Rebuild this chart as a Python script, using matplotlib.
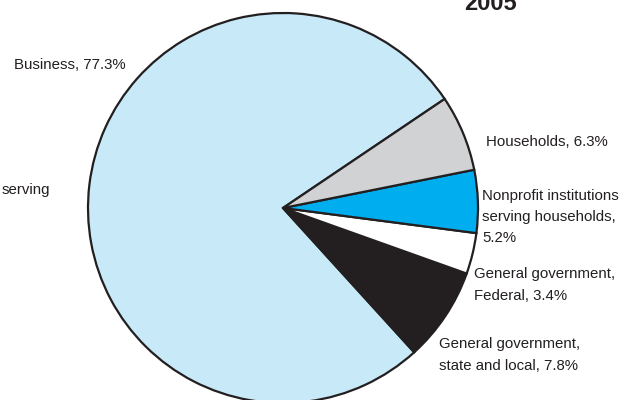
import matplotlib
matplotlib.use("Agg")
import matplotlib.pyplot as plt

plt.rcParams['font.family'] = ['Liberation Sans', 'DejaVu Sans']

# shares of the pie, counterclockwise from the top-right boundary
sectors = ['Business', 'General government, state and local',
           'General government, Federal',
           'Nonprofit institutions serving households', 'Households']
shares = [77.3, 7.8, 3.4, 5.2, 6.3]
colors = ['#c8e9f8', '#231f20', '#ffffff', '#00aeef', '#d1d2d4']

labels = {
    'Business': 'Business, 77.3%',
    'Households': 'Households, 6.3%',
    'Nonprofit': 'Nonprofit institutions\nserving households,\n5.2%',
    'Federal': 'General government,\nFederal, 3.4%',
    'State': 'General government,\nstate and local, 7.8%',
}

W, H = 633, 400
fig = plt.figure(figsize=(W / 100, H / 100), dpi=100)
ax = fig.add_axes([0, 0, 1, 1])

ax.pie(shares, colors=colors, startangle=34, center=(283, H - 208),
       radius=195, wedgeprops=dict(edgecolor='#231f20', linewidth=1.6))

ax.set_xlim(0, W)
ax.set_ylim(0, H)
ax.set_aspect('equal')
ax.axis('off')

txt = dict(fontsize=10.8, color='#231f20', linespacing=1.65)
ax.text(14, H - 65, labels['Business'], ha='left', va='center', **txt)
ax.text(50, H - 190, 'serving', ha='right', va='center', **txt)
ax.text(486, H - 142, labels['Households'], ha='left', va='center', **txt)
ax.text(482, H - 217, labels['Nonprofit'], ha='left', va='center', **txt)
ax.text(474, H - 285, labels['Federal'], ha='left', va='center', **txt)
ax.text(439, H - 355, labels['State'], ha='left', va='center', **txt)

ax.text(490, H - 10.5, '2005', ha='center', va='baseline',
        fontsize=17, fontweight='bold', color='#231f20')

fig.savefig('out.png', dpi=100)
